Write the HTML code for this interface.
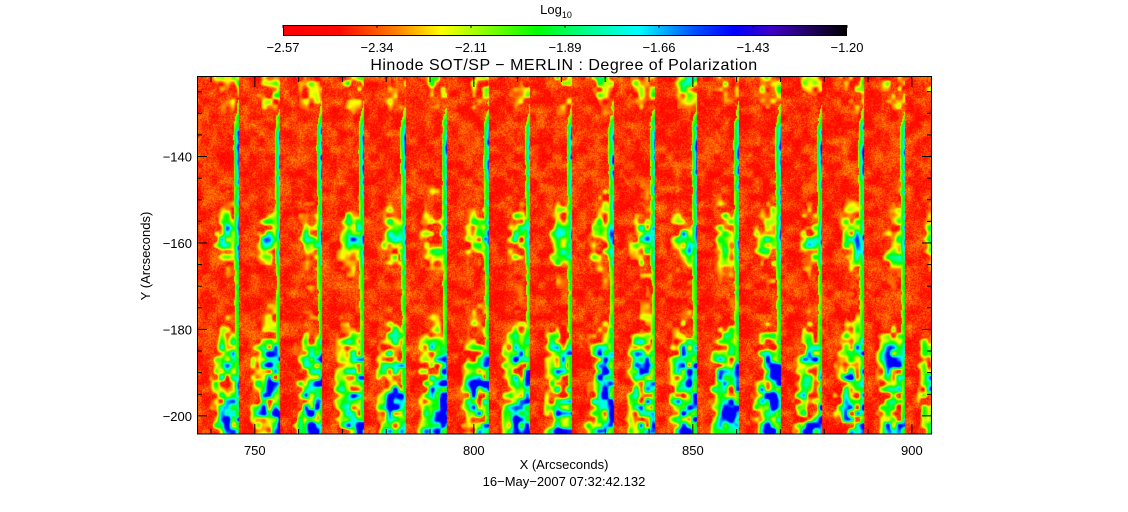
<!DOCTYPE html>
<html><head><meta charset="utf-8">
<style>
html,body{margin:0;padding:0;background:#fff;width:1128px;height:512px;overflow:hidden;font-family:"Liberation Sans",sans-serif;}
#wrap{position:relative;width:1128px;height:512px;}
canvas{position:absolute;}
svg{position:absolute;left:0;top:0;}
text{font-family:"Liberation Sans",sans-serif;fill:#000;}
</style></head>
<body>
<div id="wrap">
<canvas id="cbar" width="564" height="11" style="left:283px;top:25px"></canvas>
<canvas id="img" width="735" height="357" style="left:197px;top:77px"></canvas>
<svg id="ov" width="1128" height="512"></svg>
</div>
<script>
// ---- data ----
const xDomain = [736.8, 904.6];
const yDomain = [-121.6, -204.2];
const xTicks = [750, 800, 850, 900];
const yTicks = [-140, -160, -180, -200];
const cbarTicks = ["-2.57","-2.34","-2.11","-1.89","-1.66","-1.43","-1.20"];
const stripStarts = [736.8, 746.2, 755.7, 765.2, 774.8, 784.3, 793.8, 803.3, 812.8, 822.3, 831.8, 841.3, 850.8, 860.4, 869.9, 879.4, 888.9, 898.4];
const rowY =    [-122,-126,-130,-134,-138,-142,-146,-150,-154,-158,-162,-166,-170,-174,-178,-182,-186,-190,-194,-198,-202];
const rowBroad = [0.55,0.45,0.28,0.15,0.15,0.22,0.28,0.36,0.5,0.72,0.62,0.4,0.28,0.28,0.38,0.62,0.85,0.92,0.92,0.92,0.92];
const rowEdge =  [0.1,0.15,0.3,0.9,1.0,0.9,0.8,0.7,0.7,0.9,0.8,0.6,0.5,0.5,0.5,0.5,0.5,0.5,0.5,0.5,0.5];

// ---- scales ----
const PL=197, PT=77, PW=735, PH=357;
const sx = v => PL + (v - xDomain[0]) / (xDomain[1] - xDomain[0]) * PW;
const sy = v => PT + (v - yDomain[0]) / (yDomain[1] - yDomain[0]) * PH;

const cmStops=[[0,[255,0,0]],[0.1,[255,10,0]],[0.2,[255,128,0]],[0.28,[255,255,0]],[0.45,[0,255,0]],[0.53,[0,255,128]],[0.63,[0,255,255]],[0.73,[0,80,255]],[0.8,[0,0,255]],[0.87,[64,0,192]],[1,[0,0,0]]];
function cmap(t){t=Math.max(0,Math.min(1,t));for(let i=1;i<cmStops.length;i++){if(t<=cmStops[i][0]){const a=cmStops[i-1],b=cmStops[i];const f=(t-a[0])/(b[0]-a[0]);return a[1].map((c,k)=>c+(b[1][k]-c)*f);}}return [0,0,0];}

(function(){const c=document.getElementById('cbar').getContext('2d');const id=c.createImageData(564,11);
for(let x=0;x<564;x++){const col=cmap(x/563);for(let y=0;y<11;y++){const i=(y*564+x)*4;id.data[i]=col[0];id.data[i+1]=col[1];id.data[i+2]=col[2];id.data[i+3]=255;}}c.putImageData(id,0,0);})();

function h(x,y,s){let n=x*374761393+y*668265263+s*982451653;n=(n^(n>>>13))*1274126177;n=n^(n>>>16);return ((n>>>0)%10000)/10000;}
function vn(x,y,sc,s){const fx=x/sc,fy=y/sc,ix=Math.floor(fx),iy=Math.floor(fy),tx=fx-ix,ty=fy-iy;
const a=h(ix,iy,s),b=h(ix+1,iy,s),c=h(ix,iy+1,s),d=h(ix+1,iy+1,s);const ux=tx*tx*(3-2*tx),uy=ty*ty*(3-2*ty);
return a+(b-a)*ux+(c-a)*uy+(a-b-c+d)*ux*uy;}
function rowInterp(arr,yv){for(let i=1;i<rowY.length;i++){if(yv>=rowY[i]){const f=(yv-rowY[i-1])/(rowY[i]-rowY[i-1]);return arr[i-1]+(arr[i]-arr[i-1])*Math.max(0,Math.min(1,f));}}return arr[arr.length-1];}

(function(){const c=document.getElementById('img').getContext('2d');const id=c.createImageData(PW,PH);
for(let py=0;py<PH;py++){const yv=yDomain[0]+(py/PH)*(yDomain[1]-yDomain[0]);const br=rowInterp(rowBroad,yv),ed=rowInterp(rowEdge,yv);
for(let px=0;px<PW;px++){const xv=xDomain[0]+(px/PW)*(xDomain[1]-xDomain[0]);
let si=0;for(let k=0;k<stripStarts.length;k++){if(xv>=stripStarts[k])si=k;}
const s0=stripStarts[si],s1=si+1<stripStarts.length?stripStarts[si+1]:s0+9.5;const fr=(xv-s0)/(s1-s0);
let t=0.02+0.09*h(px,py,1)+0.1*vn(px,py,8,2)+0.03*vn(px,py,3,6);
const g=Math.min(1,Math.max(0,(fr-0.1)/0.55));
const blob=vn(px,py,6,3)*0.6+vn(px,py,14,4)*0.4;
let a=br*g*blob*1.6-0.42; if(a>-0.1)t=Math.max(t,Math.min(0.8,0.24+a*0.95));
if(fr>0.84){const e=ed*(0.5+0.5*vn(px,py,5,5))*((fr-0.84)/0.16);if(e>0.15)t=Math.max(t,Math.min(0.8,0.22+e*0.7));}
const col=cmap(t);const i=(py*PW+px)*4;id.data[i]=col[0];id.data[i+1]=col[1];id.data[i+2]=col[2];id.data[i+3]=255;}}
c.putImageData(id,0,0);})();

const svg=document.getElementById('ov');const NS='http://www.w3.org/2000/svg';
function el(tag,attrs,txt){const e=document.createElementNS(NS,tag);for(const k in attrs)e.setAttribute(k,attrs[k]);if(txt!==undefined)e.textContent=txt;svg.appendChild(e);return e;}
let e;
e=el('rect',{x:283.5,y:25.5,width:563,height:10,fill:'none',stroke:'#000','stroke-width':1});


cbarTicks.forEach((lab,i)=>{const x=283+i*564/6;
const tk=el('line',{x1:x,y1:25,x2:x,y2:28,stroke:'#000'});


const t=el('text',{x:x,y:52,'font-size':13,'text-anchor':'middle'},lab.replace('-','\u2212'));

});
e=el('text',{x:556,y:14,'font-size':13,'text-anchor':'middle'});
e.innerHTML='Log<tspan font-size="9" dy="4">10</tspan>';


e=el('text',{x:564,y:70,'font-size':16,'text-anchor':'middle','letter-spacing':'0.5'},'Hinode SOT/SP \u2212 MERLIN : Degree of Polarization');


e=el('rect',{x:197.5,y:76.5,width:734,height:357.5,fill:'none',stroke:'#000','stroke-width':1});


for(let v=740;v<=904;v+=10){const x=sx(v);const L=(v%50===0)?10:5;
const a=el('line',{x1:x,y1:434,x2:x,y2:434-L,stroke:'#000'});


const b=el('line',{x1:x,y1:77,x2:x,y2:77+L,stroke:'#000'});

}
xTicks.forEach(v=>{const t=el('text',{x:sx(v),y:455,'font-size':13,'text-anchor':'middle'},String(v));

});
for(let v=-125;v>=-204;v-=5){const y=sy(v);const L=(v%20===0)?10:5;
const a=el('line',{x1:197,y1:y,x2:197+L,y2:y,stroke:'#000'});


const b=el('line',{x1:932,y1:y,x2:932-L,y2:y,stroke:'#000'});

}
yTicks.forEach(v=>{const t=el('text',{x:192,y:sy(v)+5,'font-size':13,'text-anchor':'end'},String(v).replace('-','\u2212'));

});
e=el('text',{x:564,y:469,'font-size':13,'text-anchor':'middle'},'X (Arcseconds)');


e=el('text',{x:564,y:486,'font-size':13,'text-anchor':'middle'},'16\u2212May\u22122007 07:32:42.132');


e=el('text',{x:0,y:0,'font-size':13,'text-anchor':'middle',transform:'translate(150,256) rotate(-90)'},'Y (Arcseconds)');


</script>
</body></html>
